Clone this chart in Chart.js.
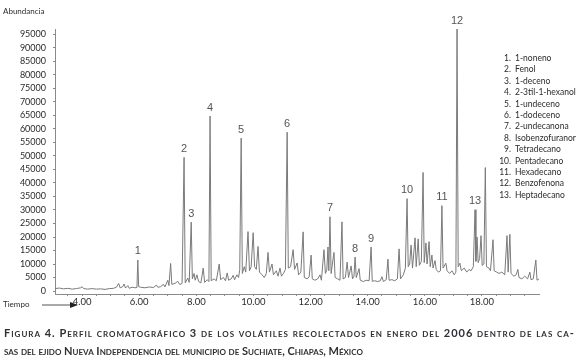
<!DOCTYPE html>
<html>
<head>
<meta charset="utf-8">
<script src="https://cdn.jsdelivr.net/npm/chart.js@4.4.1/dist/chart.umd.min.js"></script>
<style>
  html, body { margin: 0; padding: 0; background: #fff; }
  #marco { position: relative; width: 580px; height: 364px; overflow: hidden; font-family: Lato, "Liberation Sans", sans-serif; color: #2b2b2b; }
  #cromatograma { position: absolute; left: 0; top: 0; }
  #ejeY { position: absolute; left: 3px; top: 6px; font-size: 8px; }
  #ejeX { position: absolute; left: 3px; top: 299px; font-size: 8px; }
  #flecha { position: absolute; left: 42px; top: 301px; }
  #compuestos { position: absolute; left: 495px; top: 53px; font-size: 8.5px; line-height: 11.4px; }
  #compuestos span { display: inline-block; width: 16px; text-align: right; margin-right: 4px; }
  #pie { position: absolute; left: 4px; top: 324px; width: 568px; font-weight: bold; font-variant: small-caps; font-size: 11px; line-height: 18px; color: #2f2f35; }
  #pie .l1 { letter-spacing: 1px; white-space: nowrap; text-align: justify; text-align-last: justify; }
</style>
</head>
<body>
<div id="marco">
  <canvas id="cromatograma" width="580" height="364"></canvas>
  <div id="ejeY">Abundancia</div>
  <div id="ejeX">Tiempo</div>
  <svg id="flecha" width="40" height="8"><line x1="0" y1="4" x2="30" y2="4" stroke="#555" stroke-width="1"/><polygon points="28,1 36,4 28,7" fill="#222"/></svg>
  <div id="compuestos"></div>
  <div id="pie">
    <div class="l1">Figura 4. Perfil cromatográfico 3 de los volátiles recolectados en enero del 2006 dentro de las ca-</div>
    <div>sas del ejido Nueva Independencia del municipio de Suchiate, Chiapas, México</div>
  </div>
</div>
<script>
tiempo = [
  3.05, 3.2, 3.35, 3.5, 3.65, 3.8, 3.95, 4.0, 4.05, 4.2, 4.35, 4.5, 4.65, 4.8, 4.95,
  5.1, 5.2, 5.28, 5.33, 5.42, 5.47, 5.52, 5.6, 5.65, 5.75, 5.85, 5.92, 5.95, 5.98,
  6.05, 6.2, 6.35, 6.5, 6.6, 6.65, 6.75, 6.85, 6.9, 7.0, 7.04, 7.1, 7.14, 7.25, 7.35,
  7.42, 7.5, 7.57, 7.61, 7.7, 7.75, 7.82, 7.86, 7.92, 7.96, 8.02, 8.08, 8.16, 8.24,
  8.29, 8.38, 8.44, 8.48, 8.52, 8.62, 8.7, 8.8, 8.85, 8.95, 9.02, 9.08, 9.13, 9.22,
  9.29, 9.34, 9.42, 9.48, 9.52, 9.57, 9.61, 9.68, 9.73, 9.81, 9.86, 9.92, 9.99, 10.04,
  10.1, 10.16, 10.21, 10.3, 10.38, 10.45, 10.51, 10.56, 10.65, 10.7, 10.8, 10.86,
  10.93, 10.98, 11.05, 11.12, 11.18, 11.22, 11.3, 11.39, 11.44, 11.53, 11.58, 11.66,
  11.74, 11.78, 11.88, 11.95, 12.02, 12.06, 12.15, 12.25, 12.33, 12.38, 12.47, 12.52,
  12.57, 12.61, 12.64, 12.68, 12.72, 12.82, 12.86, 12.95, 13.03, 13.1, 13.14, 13.22,
  13.28, 13.33, 13.42, 13.47, 13.52, 13.56, 13.6, 13.7, 13.74, 13.85, 13.95, 14.05,
  14.12, 14.16, 14.25, 14.35, 14.44, 14.5, 14.55, 14.65, 14.71, 14.75, 14.85, 14.95,
  15.04, 15.1, 15.15, 15.25, 15.32, 15.38, 15.42, 15.47, 15.52, 15.57, 15.66, 15.7,
  15.77, 15.81, 15.88, 15.94, 15.98, 16.04, 16.08, 16.15, 16.19, 16.25, 16.29, 16.36,
  16.4, 16.48, 16.55, 16.6, 16.64, 16.74, 16.78, 16.87, 16.95, 17.03, 17.09, 17.13,
  17.17, 17.23, 17.28, 17.38, 17.47, 17.55, 17.62, 17.7, 17.76, 17.79, 17.83, 17.87,
  17.92, 17.97, 18.01, 18.07, 18.12, 18.16, 18.25, 18.3, 18.39, 18.43, 18.52, 18.6,
  18.7, 18.8, 18.88, 18.92, 18.98, 19.02, 19.12, 19.2, 19.26, 19.3, 19.4, 19.5, 19.6,
  19.68, 19.72, 19.8, 19.89, 19.93, 20.0
];
abundancia = [
  900, 1100, 800, 1000, 700, 900, 1200, 1600, 900, 700, 900, 700, 800, 600, 900,
  1000, 1400, 2800, 1200, 1600, 2600, 1100, 2000, 1000, 1400, 1200, 1300, 11500, 1600,
  1400, 1200, 1500, 1300, 2200, 1400, 1600, 2500, 1500, 4000, 2000, 10200, 2500, 2800, 3600,
  2400, 2800, 49500, 3000, 4800, 3200, 25500, 4500, 6500, 4000, 6000, 3500, 3000, 8500,
  3200, 4200, 3500, 64800, 3800, 4500, 3800, 10000, 4200, 5000, 3800, 6700, 4000, 4500,
  5800, 4200, 6000, 5000, 8000, 56600, 6500, 9000, 7000, 22000, 7500, 9000, 21600, 9000,
  8000, 16500, 7000, 6000, 5000, 6500, 14300, 7000, 10000, 6000, 7500, 5500,
  8500, 5500, 6500, 8000, 58800, 8500, 9000, 15300, 8000, 10400, 6000, 7000,
  21900, 5000, 4500, 5200, 13300, 4500, 4000, 4500, 6000, 4000, 15300, 6500,
  8000, 16300, 7500, 27500, 6500, 14300, 5000, 4500, 4000, 25600, 4500, 5000,
  10700, 5000, 9300, 4500, 5500, 12600, 5000, 8300, 4000, 3500, 4000, 3800,
  16300, 3600, 3800, 3500, 3800, 5300, 3500, 4200, 11800, 4000, 4200, 3800,
  4500, 15600, 4500, 6000, 8500, 34200, 9000, 10000, 17000, 8500, 19700, 9000,
  19300, 9500, 11000, 43900, 10500, 17800, 10000, 18300, 9000, 13300, 8500, 11300,
  8000, 7000, 7500, 31600, 8500, 10300, 7500, 6500, 7500, 6000, 7000, 97000,
  9000, 10300, 7500, 8500, 7000, 8000, 7500, 9000, 30100, 11000, 20000, 10500,
  12000, 20500, 9500, 10000, 45700, 9000, 8500, 7500, 19000, 7500, 7000, 6500,
  7000, 6000, 20500, 7000, 21000, 6500, 5500, 6000, 8000, 5000, 4500, 5500, 4500,
  7000, 4200, 4500, 11500, 4000, 4500
];

// Picos numerados
picosNumero = ['1', '2', '3', '4', '5', '6', '7', '8', '9', '10', '11', '12', '13'];
picosTiempo = [5.95, 7.57, 7.82, 8.48, 9.57, 11.18, 12.68, 13.56, 14.12, 15.38, 16.6, 17.13, 17.76];
compuestos = ['1-noneno', 'Fenol', '1-deceno', '2-3til-1-hexanol', '1-undeceno', '1-dodeceno',
  '2-undecanona', 'Isobenzofuranor', 'Tetradecano', 'Pentadecano', 'Hexadecano',
  'Benzofenona', 'Heptadecano'];

// Marcas de los ejes
etiquetasX = [4, 6, 8, 10, 12, 14, 16, 18];
pasoMenorX = 0.5;
pasoY = 5000;
maximoMarcaY = 95000;

listaCompuestos = document.getElementById('compuestos');
compuestos.forEach(function (nombre, i) {
  var fila = document.createElement('div');
  fila.innerHTML = '<span>' + picosNumero[i] + '.</span>' + nombre;
  listaCompuestos.appendChild(fila);
});

puntos = tiempo.map(function (t, i) { return { x: t, y: abundancia[i] }; });

// numeros sobre los picos
etiquetasPicos = {
  id: 'etiquetasPicos',
  afterDatasetsDraw: function (chart) {
    var ctx = chart.ctx;
    ctx.save();
    ctx.font = '11px "Liberation Sans", Arial, sans-serif';
    ctx.fillStyle = '#555';
    ctx.textAlign = 'center';
    ctx.textBaseline = 'bottom';
    picosTiempo.forEach(function (t, i) {
      var j = tiempo.indexOf(t);
      var x = chart.scales.x.getPixelForValue(t);
      var y = chart.scales.y.getPixelForValue(abundancia[j]);
      ctx.fillText(picosNumero[i], x, y - 3);
    });
    ctx.restore();
  }
};

cromatogramaCanvas = document.getElementById('cromatograma');
new Chart(cromatogramaCanvas, {
  type: 'line',
  data: {
    datasets: [{
      data: puntos,
      borderColor: '#7a7a7a',
      borderWidth: 1,
      pointRadius: 0,
      tension: 0
    }]
  },
  options: {
    responsive: false,
    animation: false,
    layout: { padding: { top: 29, right: 41, bottom: 50, left: 0 } },
    plugins: {
      legend: { display: false },
      tooltip: { enabled: false }
    },
    scales: {
      x: {
        type: 'linear',
        min: 3.05,
        max: 20,
        afterFit: function (s) { s.height = 20; },
        afterBuildTicks: function (s) {
          var marcas = [];
          for (var v = 3.5; v < 20; v += pasoMenorX) marcas.push({ value: v });
          s.ticks = marcas;
        },
        border: { color: '#8a8a8a', width: 1 },
        grid: { drawOnChartArea: false, tickLength: 2, color: '#8a8a8a' },
        ticks: {
          autoSkip: false,
          maxRotation: 0,
          padding: 0,
          color: '#2b2b2b',
          font: { family: 'Lato', size: 9.5 },
          callback: function (v) { return etiquetasX.indexOf(v) >= 0 ? v.toFixed(2) : ''; }
        }
      },
      y: {
        min: -1100,
        max: 97000,
        afterFit: function (s) { s.width = 55; },
        afterBuildTicks: function (s) {
          var marcas = [];
          for (var v = 0; v <= maximoMarcaY; v += pasoY) marcas.push({ value: v });
          s.ticks = marcas;
        },
        border: { color: '#8a8a8a', width: 1, dash: [1, 1] },
        grid: { drawOnChartArea: false, tickLength: 2, color: '#8a8a8a' },
        ticks: {
          padding: 7,
          color: '#2b2b2b',
          font: { family: 'Lato', size: 9 },
          callback: function (v) { return String(v); }
        }
      }
    }
  },
  plugins: [etiquetasPicos]
});
</script>
</body>
</html>
